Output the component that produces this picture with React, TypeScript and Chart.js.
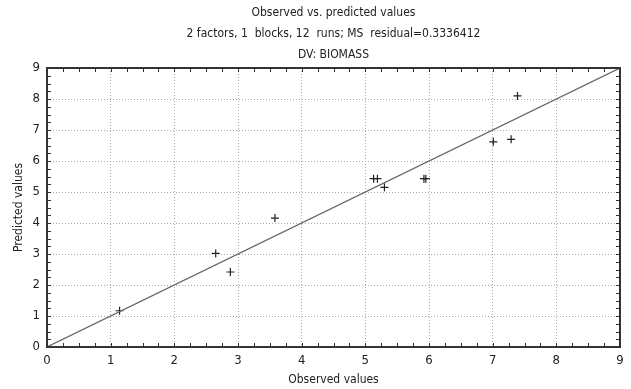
import React, { useEffect, useRef } from "react";
import { Chart, registerables } from "chart.js";

Chart.register(...registerables);

const titleLines = [
  "Observed vs. predicted values",
  "2 factors, 1  blocks, 12  runs; MS  residual=0.3336412",
  "DV: BIOMASS",
];
const xAxisTitle = "Observed values";
const yAxisTitle = "Predicted values";

const observed = [1.14, 2.65, 2.88, 3.58, 5.13, 5.19, 5.30, 5.92, 5.95, 7.01, 7.29, 7.39];
const predicted = [1.17, 3.02, 2.42, 4.16, 5.43, 5.43, 5.15, 5.43, 5.43, 6.62, 6.70, 8.10];
const fitLineX = [0, 9];
const fitLineY = [0, 9];
const axisMin = 0;
const axisMax = 9;
const minorStep = 0.25;

const FONT = "'Liberation Sans Narrow', 'DejaVu Sans Condensed', 'Liberation Sans', sans-serif";

const framePlugin = {
  id: "frameAndTitles",
  afterDraw(chart: any) {
    const { ctx, chartArea } = chart;
    const { left, right, top, bottom } = chartArea;
    const xs = chart.scales.x;
    const ys = chart.scales.y;
    ctx.save();
    ctx.strokeStyle = "#333";
    ctx.lineWidth = 1;
    const len = 4;
    ctx.beginPath();
    for (let v = axisMin; v <= axisMax + 1e-9; v += minorStep) {
      const px = Math.round(xs.getPixelForValue(v)) + 0.5;
      ctx.moveTo(px, bottom);
      ctx.lineTo(px, bottom - len);
      ctx.moveTo(px, top);
      ctx.lineTo(px, top + len);
      const py = Math.round(ys.getPixelForValue(v)) + 0.5;
      ctx.moveTo(left, py);
      ctx.lineTo(left + len, py);
      ctx.moveTo(right, py);
      ctx.lineTo(right - len, py);
    }
    ctx.stroke();
    ctx.strokeStyle = "#333";
    ctx.lineWidth = 2;
    ctx.strokeRect(left, top, right - left, bottom - top);
    ctx.fillStyle = "#222";
    ctx.font = `12px ${FONT}`;
    ctx.textAlign = "center";
    ctx.textBaseline = "middle";
    const cx = (left + right) / 2;
    titleLines.forEach((t, i) => {
      ctx.fillText(t, cx, 13 + i * 21);
    });
    ctx.restore();
  },
};

export default function App() {
  const ref = useRef<HTMLCanvasElement>(null);
  useEffect(() => {
    if (!ref.current) return;
    const gridColor = (c: any) =>
      Math.abs(c.tick.value - Math.round(c.tick.value)) < 1e-9 ? "#aaa" : "rgba(0,0,0,0)";
    const chart = new Chart(ref.current, {
      type: "scatter",
      data: {
        datasets: [
          {
            type: "line",
            data: fitLineX.map((x, i) => ({ x, y: fitLineY[i] })),
            borderColor: "#666",
            borderWidth: 1.2,
            pointRadius: 0,
            fill: false,
          } as any,
          {
            data: observed.map((x, i) => ({ x, y: predicted[i] })),
            pointStyle: "cross",
            pointRadius: 4,
            borderColor: "#222",
            borderWidth: 1.2,
            backgroundColor: "#222",
          },
        ],
      },
      options: {
        animation: false,
        responsive: false,
        maintainAspectRatio: false,
        layout: { padding: { top: 68, right: 11, left: 0, bottom: 0 } },
        plugins: {
          legend: { display: false },
          tooltip: { enabled: false },
          title: { display: false },
        },
        scales: {
          x: {
            type: "linear",
            min: axisMin,
            max: axisMax,
            afterFit: (s: any) => {
              s.height = 42;
            },
            ticks: {
              stepSize: 1,
              color: "#222",
              font: { family: FONT, size: 13 },
              padding: 6,
            },
            grid: { color: gridColor, drawTicks: false, lineWidth: 1 },
            border: { display: false, dash: [1, 2] },
            title: {
              display: true,
              text: xAxisTitle,
              color: "#222",
              font: { family: FONT, size: 12 },
              padding: { top: 2, bottom: 2 },
            },
          },
          y: {
            type: "linear",
            min: axisMin,
            max: axisMax,
            afterFit: (s: any) => {
              s.width = 47;
            },
            ticks: {
              stepSize: 1,
              color: "#222",
              font: { family: FONT, size: 13 },
              padding: 7,
            },
            grid: { color: gridColor, drawTicks: false, lineWidth: 1 },
            border: { display: false, dash: [1, 2] },
            title: {
              display: true,
              text: yAxisTitle,
              color: "#222",
              font: { family: FONT, size: 12 },
              padding: { top: 12, bottom: 2 },
            },
          },
        },
      },
      plugins: [framePlugin],
    } as any);
    return () => chart.destroy();
  }, []);
  return (
    <div style={{ position: "fixed", left: 0, top: 0, width: 631, height: 389, background: "#fff" }}>
      <canvas ref={ref} width={631} height={389} />
    </div>
  );
}
